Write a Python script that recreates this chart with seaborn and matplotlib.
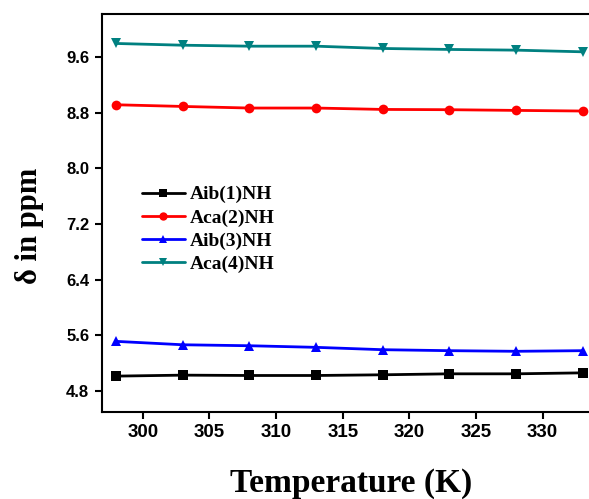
import numpy as np
import pandas as pd
import matplotlib
matplotlib.use("Agg")
import matplotlib.pyplot as plt
import seaborn as sns

temperature = [298, 303, 308, 313, 318, 323, 328, 333]
aib1 = [5.010, 5.024, 5.019, 5.019, 5.029, 5.043, 5.043, 5.057]
aca2 = [8.914, 8.890, 8.867, 8.867, 8.847, 8.843, 8.833, 8.824]
aib3 = [5.510, 5.461, 5.447, 5.424, 5.390, 5.376, 5.367, 5.376]
aca4 = [9.796, 9.771, 9.757, 9.757, 9.724, 9.710, 9.700, 9.676]
series_names = ["Aib(1)NH", "Aca(2)NH", "Aib(3)NH", "Aca(4)NH"]
yticks = [4.8, 5.6, 6.4, 7.2, 8.0, 8.8, 9.6]
xticks = [300, 305, 310, 315, 320, 325, 330]

frames = []
for name, vals in zip(series_names, [aib1, aca2, aib3, aca4]):
    frames.append(pd.DataFrame({"T": temperature, "delta": vals, "series": name}))
df = pd.concat(frames, ignore_index=True)

sns.set_style("ticks")
plt.rcParams["font.family"] = ["Liberation Sans", "DejaVu Sans"]
plt.rcParams["text.color"] = "black"
plt.rcParams["axes.labelcolor"] = "black"
plt.rcParams["xtick.color"] = "black"
plt.rcParams["ytick.color"] = "black"
plt.rcParams["axes.edgecolor"] = "black"

W, H = 589, 499
left_px, right_px, top_px, bottom_px = 101.7, 600.0, 14.0, 411.7
fig = plt.figure(figsize=(W / 100, H / 100), dpi=100)
ax = fig.add_axes([left_px / W, 1 - bottom_px / H,
                   (right_px - left_px) / W, (bottom_px - top_px) / H])

palette = {"Aib(1)NH": "#000000", "Aca(2)NH": "#ff0000",
           "Aib(3)NH": "#0000ff", "Aca(4)NH": "#008080"}
markers = {"Aib(1)NH": "s", "Aca(2)NH": "o", "Aib(3)NH": "^", "Aca(4)NH": "v"}

sns.lineplot(data=df, x="T", y="delta", hue="series", style="series",
             palette=palette, markers=markers, dashes=False,
             linewidth=2, markersize=7, markeredgewidth=0, ax=ax)

ax.set_xlim(296.92, 334.3)
ax.set_ylim(4.498, 10.220)
ax.set_xticks(xticks)
ax.set_yticks(yticks)
ax.set_yticklabels([f"{v:.1f}" for v in yticks])
ax.tick_params(axis="both", direction="out", length=5, width=1.5,
               top=False, right=False, pad=4, colors="black")
ax.tick_params(axis="x", labelsize=13.5)
ax.tick_params(axis="y", labelsize=12)
for lab in ax.get_xticklabels() + ax.get_yticklabels():
    lab.set_fontweight("bold")
for sp in ax.spines.values():
    sp.set_linewidth(1.5)
    sp.set_visible(True)
    sp.set_color("black")

ax.set_xlabel("Temperature (K)", fontsize=24, fontweight="bold",
              family=["Liberation Serif", "DejaVu Serif"], labelpad=19)
ax.set_ylabel("δ in ppm", fontsize=22, fontweight="bold",
              family=["Liberation Serif", "DejaVu Serif"])
ax.yaxis.set_label_coords(-0.1154, 0.468)

handles, labels = ax.get_legend_handles_labels()
for h in handles:
    h.set_markersize(6)
leg = ax.legend(handles, labels, loc="upper left", bbox_to_anchor=(0.065, 0.5876),
                frameon=False, handlelength=2.2, handletextpad=0.25,
                labelspacing=0.28, borderaxespad=0,
                prop={"family": ["Liberation Serif", "DejaVu Serif"],
                      "weight": "bold", "size": 14})

fig.savefig("out.png", dpi=100)
